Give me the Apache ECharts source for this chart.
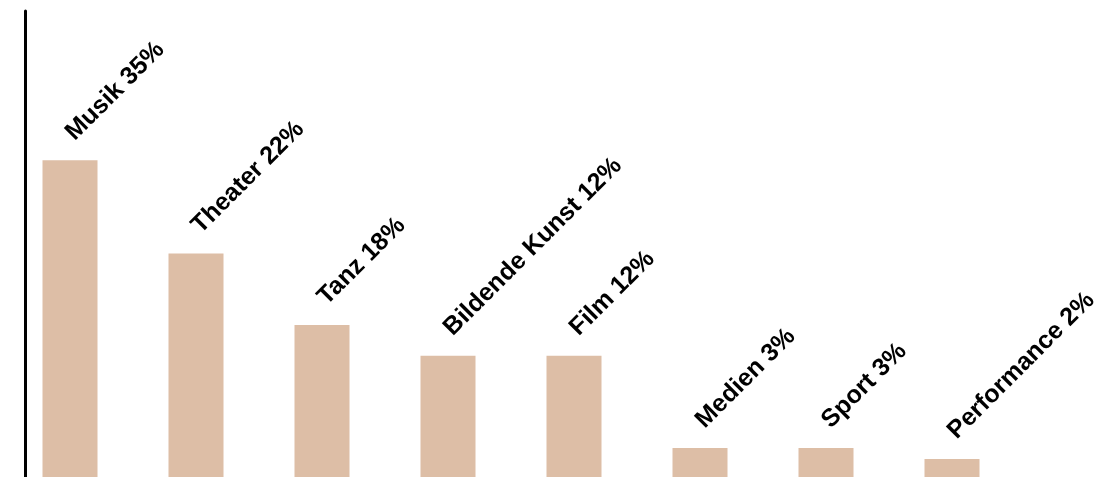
<!DOCTYPE html>
<html>
<head>
<meta charset="utf-8">
<script src="https://cdn.jsdelivr.net/npm/echarts@6/dist/echarts.min.js"></script>
<style>
  html, body { margin: 0; padding: 0; background: #fff; }
  #chart { width: 1113px; height: 477px; }
</style>
</head>
<body>
<div id="chart"></div>
<script>
// Kategorien, Balkenwerte (aus Balkenhöhen geschätzt) und Beschriftungen
const categories = ['Musik', 'Theater', 'Tanz', 'Bildende Kunst', 'Film', 'Medien', 'Sport', 'Performance'];
const values = [35, 24.7, 16.8, 13.4, 13.4, 3.2, 3.2, 2.0];
const percentLabels = ['35%', '22%', '18%', '12%', '12%', '3%', '3%', '2%'];

const chart = echarts.init(document.getElementById('chart'));

const option = {
  animation: false,
  grid: {
    left: 7,
    width: 1008,
    top: 11,
    bottom: 0
  },
  xAxis: {
    type: 'category',
    data: categories,
    axisLine: { show: false },
    axisTick: { show: false },
    axisLabel: { show: false }
  },
  yAxis: {
    type: 'value',
    min: 0,
    max: 51.5,
    offset: -18,
    axisLine: { show: true, lineStyle: { color: '#000', width: 3 } },
    axisTick: { show: false },
    axisLabel: { show: false },
    splitLine: { show: false }
  },
  series: [
    {
      type: 'bar',
      barWidth: 55,
      itemStyle: { color: '#ddbea6' },
      label: {
        show: true,
        position: 'top',
        distance: 24,
        rotate: 45,
        align: 'left',
        verticalAlign: 'middle',
        color: '#000',
        fontFamily: 'Liberation Sans, Arial, sans-serif',
        fontWeight: 'bold',
        fontSize: 25,
        formatter: p => categories[p.dataIndex] + ' ' + percentLabels[p.dataIndex]
      },
      data: values
    }
  ]
};

chart.setOption(option);
</script>
</body>
</html>
